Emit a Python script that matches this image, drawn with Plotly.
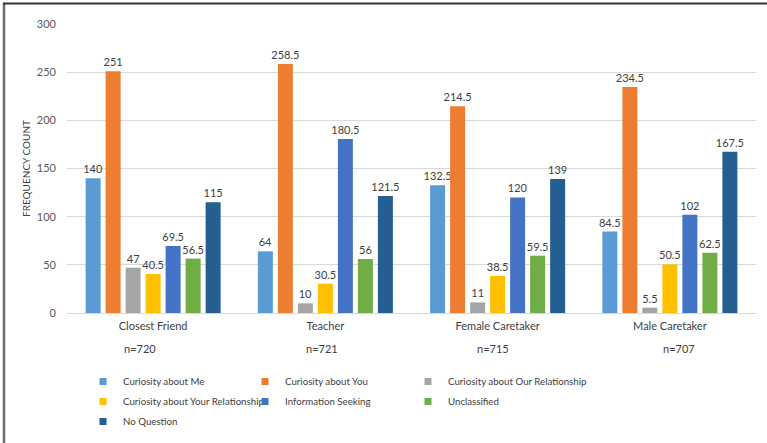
import plotly.graph_objects as go

# Question categories by relationship target
categories = ["Closest Friend", "Teacher", "Female Caretaker", "Male Caretaker"]
n_labels = ["n=720", "n=721", "n=715", "n=707"]
n_shift = [-13, -3, -5, 9]

# Frequency counts per question type
series_names = [
    "Curiosity about Me",
    "Curiosity about You",
    "Curiosity about Our Relationship",
    "Curiosity about Your Relationships",
    "Information Seeking",
    "Unclassified",
    "No Question",
]
curiosity_me = [140, 64, 132.5, 84.5]
curiosity_you = [251, 258.5, 214.5, 234.5]
curiosity_our = [47, 10, 11, 5.5]
curiosity_your_rel = [40.5, 30.5, 38.5, 50.5]
information_seeking = [69.5, 180.5, 120, 102]
unclassified = [56.5, 56, 59.5, 62.5]
no_question = [115, 121.5, 139, 167.5]

series_values = [curiosity_me, curiosity_you, curiosity_our, curiosity_your_rel,
                 information_seeking, unclassified, no_question]
colors = ["#5B9BD5", "#ED7D31", "#A5A5A5", "#FFC000", "#4472C4", "#70AD47", "#255E91"]
# legend columns: left, middle, right
legend_ids = ["legend", "legend2", "legend3", "legend", "legend2", "legend3", "legend"]

FONT = "Lato"
TXT = "#404040"

fig = go.Figure()
for name, vals, col in zip(series_names, series_values, colors):
    fig.add_trace(go.Bar(
        x=categories, y=vals, name=name, marker_color=col,
        marker_line_width=0,
        text=[f"{v:g}" for v in vals], textposition="outside",
        textangle=0, constraintext="none", cliponaxis=False,
        textfont=dict(family=FONT, size=11, color=TXT),
        showlegend=False,
    ))

# Small square legend keys, one group per entry so rows can be spaced
for i, (name, col, lg) in enumerate(zip(series_names, colors, legend_ids)):
    fig.add_trace(go.Scatter(
        x=[None], y=[None], mode="markers", name=name,
        marker=dict(symbol="square", size=7, color=col),
        legend=lg, legendgroup=f"g{i}", showlegend=True,
    ))

plot_h = 289
plot_w = 689

def py(pix):
    return (313 - pix) / plot_h

def px(pix):
    return (pix - 67) / plot_w

legend_common = dict(
    orientation="v", xanchor="left", yanchor="top", y=py(367),
    tracegroupgap=1,
    font=dict(family=FONT, size=9.7, color=TXT),
    bgcolor="rgba(0,0,0,0)", borderwidth=0, itemclick=False,
)

for lab, cat, dx in zip(n_labels, categories, n_shift):
    fig.add_annotation(
        x=cat, y=py(348), xref="x", yref="paper", text=lab, showarrow=False,
        xshift=dx, yanchor="middle", font=dict(family=FONT, size=11, color=TXT),
    )

# Frame lines on the left and top edges
fig.add_shape(type="line", xref="paper", yref="paper",
              x0=px(4), x1=px(4), y0=py(443), y1=py(3),
              line=dict(color="#6E6E6E", width=2.5))
fig.add_shape(type="line", xref="paper", yref="paper",
              x0=px(3), x1=px(767), y0=py(3.5), y1=py(3.5),
              line=dict(color="#333333", width=2))

fig.update_layout(
    width=767, height=443,
    margin=dict(l=67, r=11, t=24, b=130, autoexpand=False),
    paper_bgcolor="white", plot_bgcolor="white",
    barmode="group", bargap=0.187, bargroupgap=0.25,
    font=dict(family=FONT, color=TXT),
    legend=dict(legend_common, x=px(83)),
    legend2=dict(legend_common, x=px(245)),
    legend3=dict(legend_common, x=px(408)),
    xaxis=dict(
        tickfont=dict(family=FONT, size=11, color=TXT),
        showline=False, ticks="", ticklabelstandoff=5,
    ),
    yaxis=dict(
        range=[0, 300], dtick=50, showgrid=True, gridcolor="#D9D9D9",
        gridwidth=1, zeroline=True, zerolinecolor="#D9D9D9", zerolinewidth=1,
        tickfont=dict(family=FONT, size=11, color="#595959"),
        ticks="", ticklabelstandoff=10,
        title=dict(text="FREQUENCY COUNT", standoff=4,
                   font=dict(family=FONT, size=10, color=TXT)),
    ),
)

fig.write_html("out.html")
